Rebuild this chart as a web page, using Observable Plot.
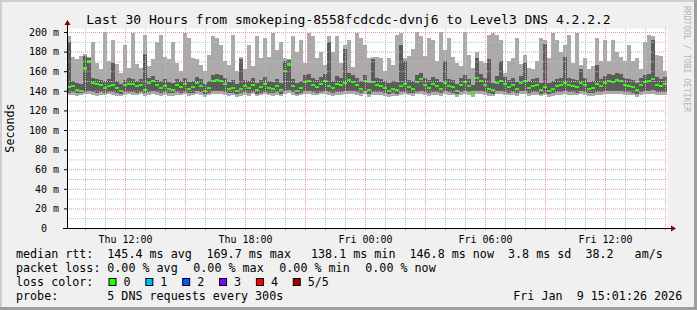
<!DOCTYPE html>
<html><head><meta charset="utf-8">
<script src="https://cdn.jsdelivr.net/npm/d3@7"></script>
<script src="https://cdn.jsdelivr.net/npm/@observablehq/plot@0.6"></script>
<style>
html,body{margin:0;padding:0;background:#f0f0f0;}
#chart{width:697px;height:310px;overflow:hidden;}
svg text{white-space:pre;}
</style></head><body><div id="chart"></div>
<script>
// ---- data (12-minute columns, Thu Jan 8 09:06 UTC .. Fri Jan 9 15:06 UTC) ----
const startTime = Date.UTC(2026, 0, 8, 9, 6);
const stepMinutes = 12;

const median = [
144,145,141,140,163,169.7,148,147,146,143,
145,146,143,140,146,147,147,145,146,141,
148,150,146,143,145,142,141,146,144,147,
142,144,148,145,140,143,150,151,150,147,
142,143,140,142,145,143,146,141,144,147,
143,142,145,141,160,167,145,140,143,149,
150,146,144,147,150,145,143,147,146,148,
151,149,146,142,150,141,149,146,145,143,
140,142,141,145,147,144,142,149,152,146,
143,147,145,142,148,145,144,140,146,149,
145,138.1,153,150,146,142,141,148,150,147,
144,146,142,148,150,143,145,146,141,144,
140,142,145,146,148,146,145,144,148,146,
142,143,147,145,148,150,149,151,150,146,
145,144,141,146,149,150,152,146,145,147];

const pingMin = [
136,136,135,136,137,137,136,135,136,136,
137,136,135,135,136,137,136,136,137,135,
136,137,136,135,136,135,135,136,136,137,
135,136,137,136,134,136,137,137,137,136,
135,136,134,135,136,135,137,135,136,137,
136,135,136,135,137,138,136,135,136,137,
137,136,136,137,137,136,135,136,136,137,
137,137,136,135,137,134,136,136,136,135,
134,135,135,136,137,136,135,137,137,136,
135,136,136,135,137,136,136,134,136,137,
136,134,137,137,136,135,135,137,137,136,
136,136,135,137,137,135,136,136,135,136,
134,135,136,136,137,136,136,136,137,136,
135,135,136,136,137,137,137,137,137,136,
136,136,134,136,137,137,137,136,136,136];

const pingLow = [
138,139,138,138,139,140,139,138,139,138,
139,139,138,137,139,139,139,138,139,138,
139,140,139,138,139,138,138,139,138,139,
138,138,140,139,137,138,140,140,140,139,
138,138,137,138,139,138,139,137,138,139,
138,138,139,137,140,141,139,137,138,140,
140,139,138,139,140,139,138,139,139,140,
140,140,139,138,140,137,139,139,139,138,
137,138,137,139,139,138,138,139,140,139,
138,139,139,138,140,139,138,137,139,140,
139,137,140,140,139,138,137,140,140,139,
138,139,138,140,140,138,139,139,137,138,
137,138,139,139,140,139,139,138,140,139,
138,138,139,139,140,140,140,140,140,139,
139,138,137,139,140,140,141,139,139,139];

const pingHigh = [
190,150,148,147,176,173,153,152,151,150,
152,168,150,147,151,153,152,150,152,178,
153,155,151,150,152,149,148,152,150,153,
149,150,154,152,147,150,156,157,156,153,
149,151,147,172,151,150,153,148,151,154,
150,149,152,148,170,171,152,148,150,156,
157,153,151,154,157,190,150,155,153,183,
158,156,153,150,156,148,172,153,152,150,
148,150,149,187,170,151,150,156,158,153,
151,154,152,149,170,152,151,147,153,156,
152,146,173,157,153,172,148,155,170,154,
151,153,149,155,168,150,152,153,148,188,
148,150,152,153,175,153,152,151,162,153,
149,150,166,152,155,157,156,158,157,153,
152,151,148,153,156,157,192,154,152,154];

const pingMax = [
196,175,172,176,178,174,190,168,162,200,
170,192,167,158,187,163,199,167,163,197,
165,172,190,197,175,172,190,168,160,199,
194,173,172,166,160,177,196,194,187,170,
166,197,160,175,162,187,165,196,173,194,
175,199,182,190,173,172,196,180,192,168,
199,196,173,180,166,196,180,196,168,187,
192,164,199,194,187,173,174,175,173,160,
173,166,197,199,173,176,183,200,196,176,
194,192,170,200,182,194,175,168,165,200,
177,163,180,170,168,197,199,197,192,158,
170,173,194,167,177,163,162,170,194,192,
173,199,192,180,187,197,168,199,166,173,
162,165,194,170,192,170,192,180,175,170,
187,170,173,162,190,197,196,177,176,160];

const yTicks = [0,20,40,60,80,100,120,140,160,180,200];
const xLabelTimes = ["2026-01-08T12:00Z","2026-01-08T18:00Z","2026-01-09T00:00Z","2026-01-09T06:00Z","2026-01-09T12:00Z"];

const titleText = "Last 30 Hours from smokeping-8558fcdcdc-dvnj6 to Level3 DNS 4.2.2.2";
const rowMedian = ["median rtt:", "145.4 ms avg", "169.7 ms max", "138.1 ms min", "146.8 ms now", "3.8 ms sd", "38.2", "am/s"];
const rowLoss = ["packet loss:", "0.00 % avg", "0.00 % max", "0.00 % min", "0.00 % now"];
const lossLabels = ["0", "1", "2", "3", "4", "5/5"];
const lossColors = ["#26ff00", "#00b8ff", "#0059ff", "#7e00ff", "#ff0000", "#a10000"];
const probeText = ["probe:", "5 DNS requests every 300s"];
const stampText = "Fri Jan  9 15:01:26 2026";
const watermark = "RRDTOOL / TOBI OETIKER";

// ---- build ----
const FONT = "DejaVu Sans Mono";
const stepMs = stepMinutes * 60000;
const endTime = startTime + median.length * stepMs;
const rows = median.map((m, i) => ({
  t0: new Date(startTime + i * stepMs), t1: new Date(startTime + (i + 1) * stepMs),
  lo: pingMin[i], q1: pingLow[i], med: m, q3: pingHigh[i], hi: pingMax[i]
}));
const hours = d3.utcHour.range(new Date(startTime), new Date(endTime));
const majorX = hours.filter(d => d.getUTCHours() % 3 === 0);
const minorX = hours.filter(d => d.getUTCHours() % 3 !== 0);
const majorY = yTicks.filter(v => v > 0);
const minorY = yTicks.slice(0, -1).map(v => v + 10);

const chart = Plot.plot({
  width: 697, height: 310,
  marginLeft: 67, marginRight: 30, marginTop: 28, marginBottom: 82,
  style: {background: "transparent", fontFamily: FONT, fontSize: "10px", color: "#000", overflow: "visible"},
  x: {type: "utc", domain: [new Date(startTime), new Date(endTime)]},
  y: {domain: [0, 204.1]},
  marks: [
    Plot.frame({fill: "#ffffff", stroke: null}),
    Plot.rect(rows, {x1: "t0", x2: "t1", y1: "lo", y2: "hi", fill: "#aaaaaa", shapeRendering: "crispEdges"}),
    Plot.rect(rows, {x1: "t0", x2: "t1", y1: "q1", y2: "q3", fill: "#5c5c5c", shapeRendering: "crispEdges"}),
    Plot.rect(rows, {x1: "t0", x2: "t1", y1: d => d.med - 1.3, y2: d => d.med + 1.3, fill: lossColors[0], shapeRendering: "crispEdges"}),
    Plot.ruleY(minorY, {stroke: "#bdbdbd", strokeDasharray: "1,1"}),
    Plot.ruleY(majorY, {stroke: "#e39a9a", strokeDasharray: "1,1"}),
    Plot.ruleX(minorX, {stroke: "#bdbdbd", strokeDasharray: "1,1"}),
    Plot.ruleX(majorX, {stroke: "#e39a9a", strokeDasharray: "1,1"}),
    Plot.ruleX(hours, {y1: 0, y2: -2.2, stroke: "#999"}),
    Plot.axisY({ticks: yTicks, tickSize: 3, tickPadding: 5.5, label: null, fontSize: 10,
      tickFormat: d => d === 0 ? "0\u00a0\u00a0" : d + "\u00a0m"}),
    Plot.axisX({ticks: xLabelTimes.map(s => new Date(s)), tickSize: 0, tickPadding: 7, label: null, fontSize: 10,
      tickFormat: d3.utcFormat("%a %H:%M")}),
    Plot.ruleY([0], {stroke: "#000"}),
    Plot.ruleX([new Date(startTime)], {stroke: "#000"})
  ]
});

const svg = d3.select(chart);
const xr = chart.scale("x").range, yr = chart.scale("y").range;
const x0 = xr[0], x1 = xr[1], yb = yr[0], yt = yr[1];
// axis extensions & arrows
svg.append("line").attr("x1", x1).attr("x2", x1 + 5).attr("y1", yb + 0.5).attr("y2", yb + 0.5).attr("stroke", "#000");
svg.append("line").attr("x1", x0 - 4).attr("x2", x0).attr("y1", yb + 0.5).attr("y2", yb + 0.5).attr("stroke", "#000");
svg.append("line").attr("x1", x0 + 0.5).attr("x2", x0 + 0.5).attr("y1", yt).attr("y2", yt - 4).attr("stroke", "#000");
svg.append("path").attr("d", `M${x1 + 4},${yb - 2.5}L${x1 + 9},${yb + 0.5}L${x1 + 4},${yb + 3.5}Z`).attr("fill", "#800000");
svg.append("path").attr("d", `M${x0 - 2.5},${yt - 3}L${x0 + 0.5},${yt - 8}L${x0 + 3.5},${yt - 3}Z`).attr("fill", "#800000");

// borders
svg.append("rect").attr("x", 0).attr("y", 0).attr("width", 697).attr("height", 2).attr("fill", "#cfcfcf");
svg.append("rect").attr("x", 0).attr("y", 0).attr("width", 2).attr("height", 310).attr("fill", "#cfcfcf");
svg.append("rect").attr("x", 694).attr("y", 0).attr("width", 3).attr("height", 310).attr("fill", "#9e9e9e");
svg.append("rect").attr("x", 0).attr("y", 307).attr("width", 697).attr("height", 3).attr("fill", "#9e9e9e");

const g = svg.append("g").attr("font-family", FONT).attr("fill", "#000").attr("text-anchor", "start");
const T = (x, y, s, size, anchor) => g.append("text").attr("x", x).attr("y", y)
  .attr("font-size", size).attr("text-anchor", anchor || "start").text(s);

T(348.5, 24, titleText, 13, "middle");
g.append("text").attr("transform", "translate(14,128) rotate(-90)").attr("text-anchor", "middle")
  .attr("font-size", 11.7).text("Seconds");
g.append("text").attr("transform", "translate(684,6) rotate(90)").attr("font-size", 8)
  .attr("text-anchor", "start").attr("fill", "#b4b4b4").text(watermark);

const medX = [16, 107.3, 206.5, 311, 409.5, 508, 585.5, 634.6];
rowMedian.forEach((s, i) => T(medX[i], 258, s, 11.7));
const lossX = [16, 107.3, 193.3, 279.3, 365.3];
rowLoss.forEach((s, i) => T(lossX[i], 272, s, 11.7));
T(16, 286, "loss color:", 11.7);
lossLabels.forEach((s, i) => {
  const bx = 108.5 + i * 36.85;
  g.append("rect").attr("x", bx + 0.5).attr("y", 278.5).attr("width", 7).attr("height", 7)
    .attr("fill", lossColors[i]).attr("stroke", "#000").attr("stroke-width", 1);
  T(bx + 15, 286, s, 11.7);
});
T(16, 300, probeText[0], 11.7);
T(107.3, 300, probeText[1], 11.7);
T(513.3, 300, stampText, 11.7);

document.getElementById("chart").appendChild(chart);
</script></body></html>
